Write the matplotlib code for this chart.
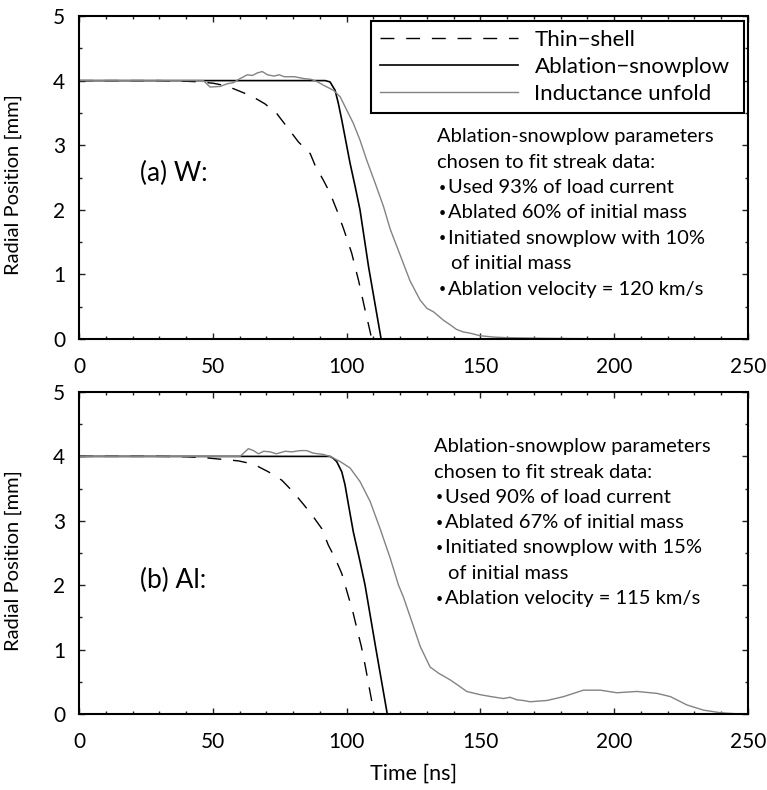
import matplotlib
matplotlib.use("Agg")
import matplotlib.pyplot as plt
from matplotlib.ticker import MultipleLocator

plt.rcParams['font.family'] = ['Lato', 'DejaVu Sans']
plt.rcParams['axes.unicode_minus'] = True

# ---- (a) W ----
w_thin_t = [0, 30, 40, 45, 50, 55, 59.2, 64.5, 69.5, 73.9, 78.9, 82, 86.4, 88.2,
            91.3, 93.8, 96.3, 99, 101.9, 104.5, 106.9, 108.2, 109.4]
w_thin_r = [4.0, 4.0, 3.99, 3.98, 3.96, 3.92, 3.85, 3.76, 3.64, 3.49, 3.22, 3.05,
            2.87, 2.69, 2.46, 2.26, 2.0, 1.69, 1.33, 0.9, 0.45, 0.22, 0.0]

w_abl_t = [0, 92, 93.8, 95.7, 96.9, 98.2, 99.4, 101.3, 103.2, 105, 108.2, 112.9]
w_abl_r = [4.0, 4.0, 3.98, 3.85, 3.65, 3.39, 3.13, 2.72, 2.36, 2.0, 1.12, 0.0]

w_ind_t = [0, 46.5, 49, 52.8, 55.3, 57.8, 59.7, 62.9, 64.8, 66.7, 68.5, 70.4,
           72.9, 74.8, 76.7, 80.5, 84.2, 86.7, 89.2, 91.3, 95.1, 97.6, 100.1,
           102.5, 105, 107.5, 110.7, 113.8, 116.3, 120, 123.7, 127.5, 130,
           132.5, 136.2, 138.7, 141, 143.5, 146.2, 149.9, 155, 160, 175, 190,
           205, 250]
w_ind_r = [4.0, 4.0, 3.9, 3.91, 3.95, 3.97, 4.02, 4.09, 4.08, 4.12, 4.14, 4.09,
           4.07, 4.09, 4.06, 4.06, 4.03, 4.02, 3.98, 3.93, 3.85, 3.75, 3.54,
           3.34, 3.08, 2.77, 2.41, 2.05, 1.7, 1.3, 0.9, 0.6, 0.475,
           0.42, 0.29, 0.22, 0.15, 0.11, 0.09, 0.05, 0.03, 0.02, 0.01, 0.005,
           0.003, 0.0]

# ---- (b) Al ----
al_thin_t = [0, 30, 40, 48, 52, 56, 59.6, 65.2, 70.8, 75.8, 80, 84, 87.6, 90.7,
             93.2, 95.7, 98.2, 100.5, 102.5, 104, 105.5, 107, 108.5, 110.3]
al_thin_r = [4.0, 4.0, 3.995, 3.975, 3.96, 3.945, 3.93, 3.88, 3.76, 3.63, 3.45,
             3.25, 3.06, 2.88, 2.62, 2.42, 2.18, 1.85, 1.56, 1.3, 1.05, 0.74,
             0.4, 0.0]

al_abl_t = [0, 93.8, 95, 96.3, 98.2, 99.4, 100.7, 102.5, 105, 106.9, 111, 115.2]
al_abl_r = [4.0, 4.0, 3.97, 3.92, 3.76, 3.56, 3.25, 2.83, 2.37, 2.0, 1.0, 0.0]

al_ind_t = [0, 60.2, 63.3, 65.2, 67.1, 69, 71.5, 73.7, 77.1, 79.5, 82.6, 85.1,
            87.6, 91.4, 93.8, 97.6, 101.3, 105, 108.8, 112.5, 116.3, 119.4,
            121.2, 124.5, 127.5, 131.2, 134.5, 138.7, 141.5, 144.9, 149.9, 154,
            158.6, 161.1, 163.6, 166, 168.6, 174.9, 181.1, 188.5, 194.8, 201,
            208.5, 216, 221, 227.2, 233.4, 239.6, 245, 250]
al_ind_r = [4.0, 4.0, 4.12, 4.09, 4.04, 4.08, 4.07, 4.04, 4.08, 4.07, 4.09, 4.09,
            4.05, 4.03, 4.0, 3.92, 3.82, 3.61, 3.30, 2.88, 2.42, 2.0,
            1.82, 1.42, 1.05, 0.73, 0.63, 0.53, 0.45, 0.35, 0.30, 0.27,
            0.24, 0.26, 0.22, 0.21, 0.19, 0.21, 0.27, 0.37, 0.37, 0.33,
            0.35, 0.32, 0.27, 0.14, 0.06, 0.02, 0.005, 0.0]

series_labels = ["Thin\u2212shell", "Ablation\u2212snowplow", "Inductance unfold"]
x_ticks = [0, 50, 100, 150, 200, 250]
y_ticks = [0, 1, 2, 3, 4, 5]

w_notes = ["Ablation-snowplow parameters", "chosen to fit streak data:",
           "\u2022Used 93% of load current", "\u2022Ablated 60% of initial mass",
           "\u2022Initiated snowplow with 10%", " of initial mass",
           "\u2022Ablation velocity = 120 km/s"]
al_notes = ["Ablation-snowplow parameters", "chosen to fit streak data:",
            "\u2022Used 90% of load current", "\u2022Ablated 67% of initial mass",
            "\u2022Initiated snowplow with 15%", " of initial mass",
            "\u2022Ablation velocity = 115 km/s"]

W, H = 767, 790
fig = plt.figure(figsize=(W / 100, H / 100), dpi=100)

def axes_rect(left, right, top, bottom):
    return [left / W, 1 - bottom / H, (right - left) / W, (bottom - top) / H]

ax1 = fig.add_axes(axes_rect(79, 748, 16, 339))
ax2 = fig.add_axes(axes_rect(79, 748, 392, 714))

GRAY = "#838383"
NOTE_FS = 14.5

def style(ax):
    ax.set_xlim(0, 250)
    ax.set_ylim(0, 5)
    ax.set_xticks(x_ticks)
    ax.set_yticks(y_ticks)
    ax.xaxis.set_minor_locator(MultipleLocator(10))
    ax.yaxis.set_minor_locator(MultipleLocator(0.5))
    ax.tick_params(which="both", direction="in", top=True, right=True,
                   labelsize=15, width=1.0, color="#222222")
    ax.tick_params(axis="x", which="major", length=4.5, pad=13)
    ax.tick_params(axis="y", which="major", length=4.5, pad=10)
    ax.tick_params(which="minor", length=2.5)
    for s in ax.spines.values():
        s.set_linewidth(1.5)
    ax.set_ylabel("Radial Position [mm]", fontsize=14.5)
    ax.yaxis.set_label_coords(-0.085, 0.478)

def draw(ax, tt, tr, at, ar, it, ir):
    h1, = ax.plot(tt, tr, color="black", lw=1.0, dashes=(10, 8.5))
    h2, = ax.plot(at, ar, color="black", lw=1.2)
    h3, = ax.plot(it, ir, color=GRAY, lw=1.0)
    return [h1, h2, h3]

def notes(ax, lines, x0, y0, step=0.0786):
    for i, line in enumerate(lines):
        y = y0 - i * step
        if line.startswith("\u2022"):
            ax.text(x0 + 0.003, y, "\u2022", transform=ax.transAxes, fontsize=9,
                    va="center", ha="left")
            ax.text(x0 + 0.016, y, line[1:], transform=ax.transAxes,
                    fontsize=NOTE_FS, va="center", ha="left")
        elif line.startswith(" "):
            ax.text(x0 + 0.021, y, line.strip(), transform=ax.transAxes,
                    fontsize=NOTE_FS, va="center", ha="left")
        else:
            ax.text(x0, y, line, transform=ax.transAxes, fontsize=NOTE_FS,
                    va="center", ha="left")

style(ax1)
style(ax2)
handles = draw(ax1, w_thin_t, w_thin_r, w_abl_t, w_abl_r, w_ind_t, w_ind_r)
draw(ax2, al_thin_t, al_thin_r, al_abl_t, al_abl_r, al_ind_t, al_ind_r)
ax2.yaxis.set_label_coords(-0.085, 0.476)

leg = ax1.legend(handles, series_labels, loc="upper left",
                 bbox_to_anchor=(0.4367, 0.9855, 0.5578, 0.0), mode="expand",
                 borderaxespad=0, fontsize=16, handlelength=6.2,
                 handletextpad=0.75, labelspacing=0.32, borderpad=0.4,
                 fancybox=False, framealpha=1)
leg.get_frame().set_edgecolor("black")
leg.get_frame().set_linewidth(1.5)

notes(ax1, w_notes, 0.535, 0.626)
notes(ax2, al_notes, 0.531, 0.830)

ax1.text(0.091, 0.514, "(a) W:", transform=ax1.transAxes, fontsize=19,
         va="center", ha="left")
ax2.text(0.091, 0.416, "(b) Al:", transform=ax2.transAxes, fontsize=19,
         va="center", ha="left")

ax2.set_xlabel("Time [ns]", fontsize=15.5)
ax2.xaxis.set_label_coords(0.5, -0.155)

fig.savefig("out.png", dpi=100)
